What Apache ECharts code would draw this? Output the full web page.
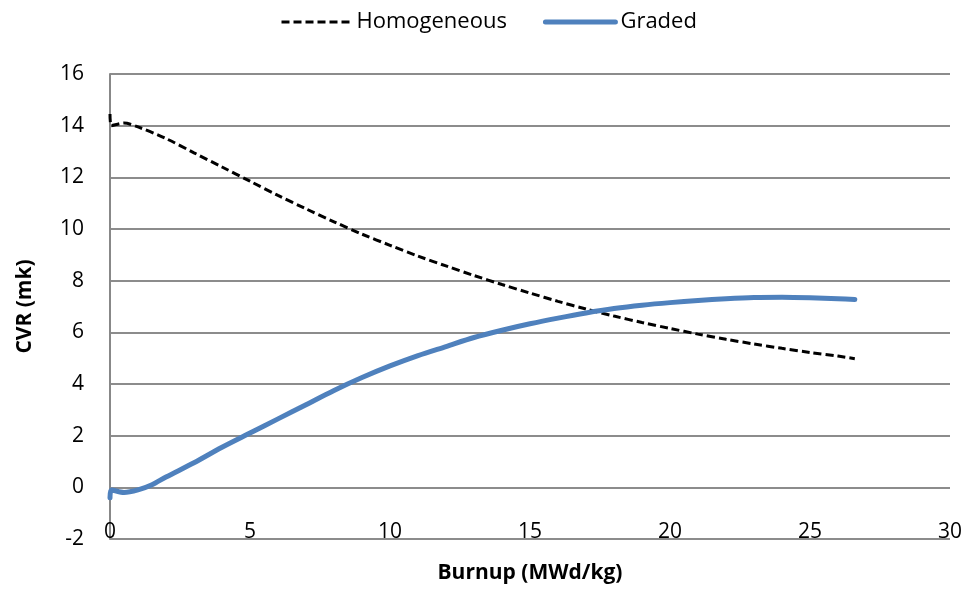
<!DOCTYPE html>
<html><head><meta charset="utf-8">
<script src="https://cdn.jsdelivr.net/npm/echarts@6/dist/echarts.min.js"></script>
<style>html,body{margin:0;padding:0;background:#fff}#c{width:969px;height:593px}</style>
</head><body><div id="c"></div>
<script>
const burnupH = [0, 0.05, 0.5, 1, 2, 3, 4, 5, 6, 7, 8, 9, 10, 11, 12, 13, 14, 15, 16, 17, 18, 19, 20, 21, 22, 23, 24, 25, 26, 26.6];
const homogeneous = [14.45, 14.0, 14.1, 13.95, 13.5, 12.95, 12.4, 11.85, 11.3, 10.78, 10.28, 9.8, 9.37, 8.95, 8.57, 8.2, 7.85, 7.52, 7.2, 6.9, 6.63, 6.38, 6.15, 5.93, 5.73, 5.55, 5.38, 5.22, 5.08, 4.98];
const burnupG = [0, 0.05, 0.5, 1, 1.5, 2, 3, 4, 5, 6, 7, 8, 9, 10, 11, 12, 13, 14, 15, 16, 17, 18, 19, 20, 21, 22, 23, 24, 25, 26, 26.6];
const graded = [-0.4, -0.1, -0.2, -0.1, 0.1, 0.4, 0.95, 1.55, 2.1, 2.65, 3.2, 3.75, 4.25, 4.7, 5.1, 5.45, 5.8, 6.08, 6.33, 6.55, 6.75, 6.92, 7.05, 7.15, 7.23, 7.3, 7.35, 7.36, 7.34, 7.3, 7.27];
const xTitle = 'Burnup (MWd/kg)';
const yTitle = 'CVR (mk)';

const font = 'Open Sans';
const chart = echarts.init(document.getElementById('c'), null, {renderer: 'canvas'});
chart.setOption({
  animation: false,
  textStyle: {fontFamily: font},
  legend: {
    top: 6, left: 275, itemWidth: 70, itemHeight: 14, itemGap: 36,
    textStyle: {fontFamily: font, fontSize: 22, color: '#000'},
    data: [
      {name: 'Homogeneous', itemStyle: {opacity: 0}, lineStyle: {color: '#000', width: 3, type: [8, 4]}},
      {name: 'Graded', itemStyle: {opacity: 0}, lineStyle: {color: '#4f81bd', width: 5}}
    ]
  },
  grid: {left: 110, right: 19, top: 74, bottom: 54},
  xAxis: {
    type: 'value', min: 0, max: 30, interval: 5,
    name: xTitle, nameLocation: 'middle', nameGap: 24,
    nameTextStyle: {fontFamily: font, fontSize: 21, fontWeight: 'bold', color: '#000'},
    axisLine: {show: false}, axisTick: {show: false},
    axisLabel: {inside: true, margin: -4, fontFamily: font, fontSize: 21, color: '#000'},
    splitLine: {show: false}
  },
  yAxis: {
    type: 'value', min: -2, max: 16, interval: 2,
    name: yTitle, nameLocation: 'middle', nameGap: 74,
    nameTextStyle: {fontFamily: font, fontSize: 21, fontWeight: 'bold', color: '#000'},
    axisLine: {show: true, lineStyle: {color: '#888', width: 2}},
    axisTick: {show: false},
    axisLabel: {margin: 26, fontFamily: font, fontSize: 21, color: '#000'},
    splitLine: {show: true, lineStyle: {color: '#8c8c8c', width: 2}}
  },
  series: [
    {
      name: 'Homogeneous', type: 'line', symbol: 'none', smooth: 0.3,
      data: burnupH.map((x, i) => [x, homogeneous[i]]),
      lineStyle: {color: '#000', width: 3, type: [8, 4]},
      itemStyle: {color: '#000'}
    },
    {
      name: 'Graded', type: 'line', symbol: 'none', smooth: 0.3,
      data: burnupG.map((x, i) => [x, graded[i]]),
      lineStyle: {color: '#4f81bd', width: 5, cap: 'round'},
      itemStyle: {color: '#4f81bd'}
    }
  ]
});
</script></body></html>
